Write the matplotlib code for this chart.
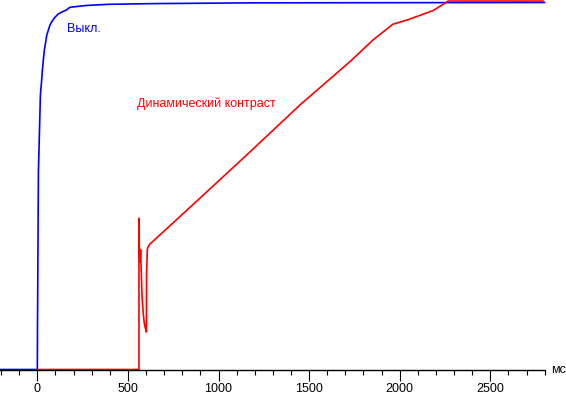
import matplotlib
matplotlib.use("Agg")
import matplotlib.pyplot as plt
from matplotlib.ticker import MultipleLocator

# Data (time in ms, brightness in %)
off_t = [-206, 0, 1, 6, 11, 17, 24, 28, 33, 39, 46, 52, 61, 70, 83, 98, 116, 135,
         162, 180, 273, 390, 640, 1175, 2800]
off_v = [0, 0, 11.6, 53.8, 63.4, 74.8, 78.9, 81.6, 84.3, 87.1, 89.2, 91.1, 92.5,
         93.9, 95.0, 96.0, 96.9, 97.4, 98.0, 98.7, 99.2, 99.5, 99.7, 99.9, 100.0]

dyn_t = [0, 561, 561, 563, 567, 570, 572, 578, 585, 590, 596, 602, 603, 607, 611,
         622, 898, 1174, 1450, 1726, 1853, 1963, 2039, 2112, 2184,
         2250, 2267, 2791]
dyn_v = [0, 0, 41.2, 32.0, 29.3, 32.6, 29.3, 19.8, 15.1, 12.7, 11.3, 10.2, 26.0,
         32.6, 33.4, 34.2, 46.7, 59.3, 72.1, 83.9, 89.8, 94.1, 95.2,
         96.5, 97.8, 99.8, 100.4, 100.4]

label_off = "Выкл."
label_dyn = "Динамический контраст"
unit = "мс"
tick_vals = [0, 500, 1000, 1500, 2000, 2500]

plt.rcParams['font.family'] = ['Liberation Sans', 'DejaVu Sans']

fig = plt.figure(figsize=(5.66, 3.96), dpi=100)
ax = fig.add_axes([0, 0, 1, 1])
ax.set_xlim(-206, 2918)
ax.set_ylim(-7.22, 100.68)

ax.plot(off_t, off_v, color='#0000ff', lw=1.2)
ax.plot(dyn_t, dyn_v, color='#ff0000', lw=1.2)

for s in ['top', 'left', 'right', 'bottom']:
    ax.spines[s].set_visible(False)
ax.axhline(-0.14, xmin=0, xmax=545 / 566, color='black', lw=1.0)
ax.set_yticks([])
ax.xaxis.set_ticks_position('bottom')
ax.set_xticks(tick_vals)
ax.set_xticks([t for t in range(-200, 2801, 100) if t % 500 != 0], minor=True)

ax.spines['bottom'].set_position(('data', -0.14))
ax.tick_params(axis='x', which='major', direction='out', length=8, width=0.8,
               pad=1.5, labelsize=9)
ax.tick_params(axis='x', which='minor', direction='out', length=3.3, width=0.8)

ax.text(67 / 566, 1 - 29 / 396, label_off, transform=ax.transAxes, color='#0000ff',
        fontsize=9, ha='left', va='center')
ax.text(137 / 566, 1 - 104 / 396, label_dyn, transform=ax.transAxes, color='#ff0000',
        fontsize=9, ha='left', va='center')
ax.text(551 / 566, 1 - 370 / 396, unit, transform=ax.transAxes, color='black',
        fontsize=9, ha='left', va='center')

fig.savefig("out.png", dpi=100)
